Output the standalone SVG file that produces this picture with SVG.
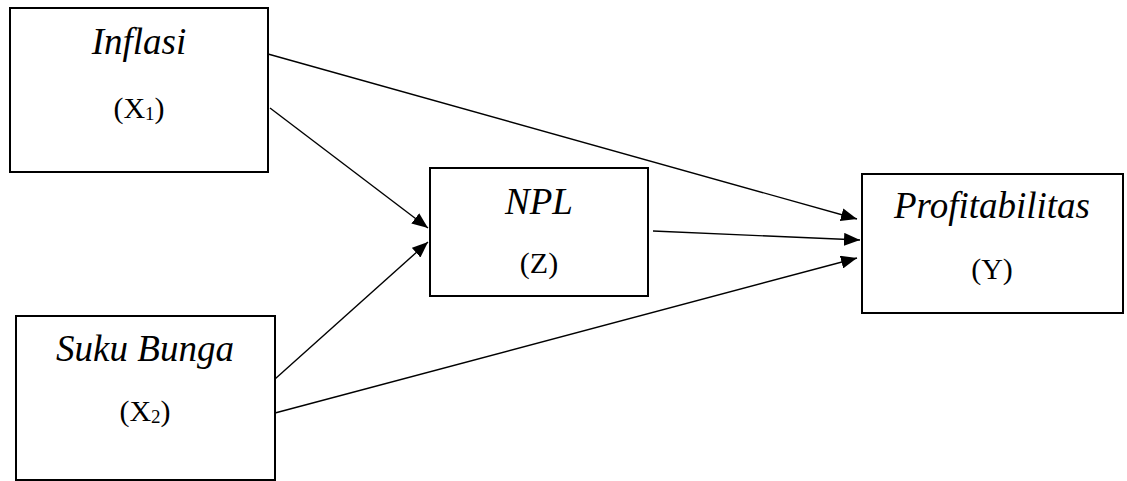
<svg xmlns="http://www.w3.org/2000/svg" width="1127" height="481" viewBox="0 0 1127 481">
<style>
.box{fill:#fff;stroke:#000;stroke-width:2}
.t{font-family:"Liberation Serif","Times New Roman",serif;font-style:italic;font-size:37px;fill:#000;text-anchor:middle}
.p{font-family:"Liberation Serif","Times New Roman",serif;font-size:30px;fill:#000;text-anchor:middle}
.s{font-size:19px}
.c{stroke:#000;stroke-width:1.4;fill:none;marker-end:url(#ah)}
</style>
<defs>
<marker id="ah" markerUnits="userSpaceOnUse" markerWidth="17" markerHeight="13" refX="16" refY="6.5" orient="auto">
<path d="M0,0 L16,6.5 L0,13 z" fill="#000"/>
</marker>
</defs>
<rect width="1127" height="481" fill="#fff"/>
<g id="connectors">
<line class="c" x1="268" y1="54" x2="857" y2="219"/>
<line class="c" x1="270" y1="108" x2="428" y2="228"/>
<line class="c" x1="275" y1="379" x2="428" y2="242"/>
<line class="c" x1="275" y1="413" x2="857" y2="258"/>
<line class="c" x1="653" y1="231" x2="860" y2="240"/>
</g>
<g id="inflasi">
<rect class="box" x="10" y="8" width="258" height="164"/>
<text class="t" x="139" y="54">Inflasi</text>
<text class="p" x="139" y="118">(X<tspan class="s" dy="2">1</tspan><tspan dy="-2">)</tspan></text>
</g>
<g id="sukubunga">
<rect class="box" x="16" y="316" width="259" height="164"/>
<text class="t" x="145" y="361">Suku Bunga</text>
<text class="p" x="145" y="421">(X<tspan class="s" dy="2">2</tspan><tspan dy="-2">)</tspan></text>
</g>
<g id="npl">
<rect class="box" x="430" y="168" width="218" height="128"/>
<text class="t" x="539" y="214">NPL</text>
<text class="p" x="539" y="273">(Z)</text>
</g>
<g id="profitabilitas">
<rect class="box" x="862" y="174" width="261" height="139"/>
<text class="t" x="992" y="218">Profitabilitas</text>
<text class="p" x="992" y="279">(Y)</text>
</g>
</svg>
